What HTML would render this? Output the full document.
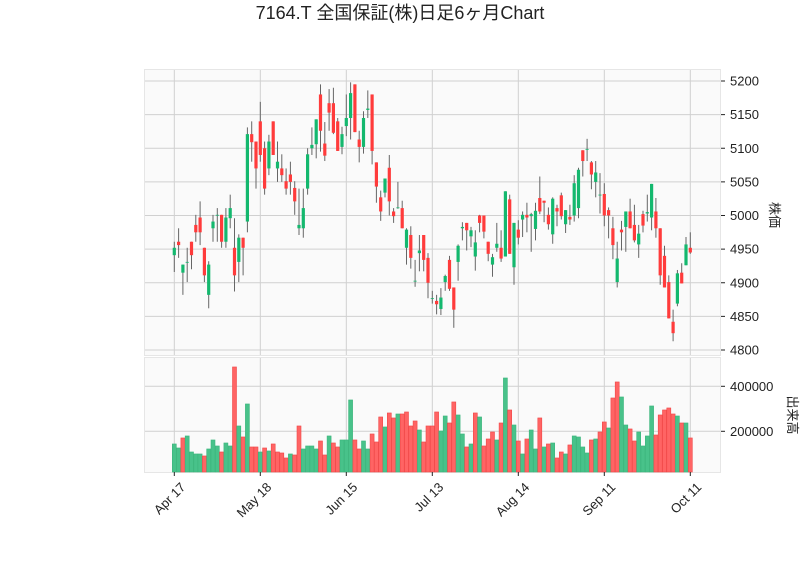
<!DOCTYPE html>
<html><head><meta charset="utf-8"><style>
html,body{margin:0;padding:0;background:#fff;}
svg{display:block;font-family:"Liberation Sans","Noto Sans CJK JP",sans-serif;}
</style></head><body>
<svg id="chart" width="800" height="575" viewBox="0 0 800 575">
<text x="400" y="19" text-anchor="middle" font-size="18" fill="#222">7164.T 全国保証(株)日足6ヶ月Chart</text>
<rect x="144.5" y="69.5" width="576" height="286" fill="#fafafa" stroke="#e6e6e6"/>
<rect x="144.5" y="357.5" width="576" height="115" fill="#fafafa" stroke="#e6e6e6"/>
<g id="grid"></g><g id="marks"></g><g id="axes"></g>
<text transform="translate(770,215) rotate(90)" text-anchor="middle" font-size="13" fill="#222">株価</text>
<text transform="translate(788,415) rotate(90)" text-anchor="middle" font-size="13" fill="#222">出来高</text>
</svg>
<script>
const opens=[4941,4961,4915,4931,4961,4986,4997,4952,4882,4981,5001,5001,4961,4996,4952,4931,4967,4991,5121,5110,5140,5100,5070,5140,5070,5070,5051,5061,5041,4981,4981,5040,5100,5106,5180,5107,5167,5167,5140,5102,5133,5145,5195,5113,5102,5157,5180,5079,5027,5034,5071,5006,5012,5011,4952,4971,4903,4944,4971,4937,4877,4873,4861,4901,4934,4893,4931,4981,4989,4969,4939,5000,5000,4961,4927,4952,4952,4939,5024,4923,4979,4994,5001,4999,4980,5026,5022,5001,4972,5011,5030,4987,4998,5000,5011,5097,5099,5079,5050,5031,5032,5008,4981,4901,4979,4983,5006,4986,4957,5002,5003,4997,5006,4981,4940,4901,4842,4869,4915,4926,4952];
const highs=[4961,4981,4927,4952,4961,5001,5021,4952,4932,5001,5011,5001,5011,5031,4996,4972,4967,5131,5140,5110,5169,5110,5120,5140,5110,5091,5070,5080,5051,5040,5040,5100,5131,5143,5195,5139,5188,5190,5145,5132,5180,5198,5195,5126,5155,5186,5180,5079,5037,5055,5090,5011,5050,5022,4981,4984,4934,4971,4971,4944,4888,4882,4892,4912,4940,4893,4957,4990,4989,4983,4978,5001,5000,4961,4943,4989,4978,5036,5031,4989,4993,5006,5019,5004,5019,5058,5022,5012,5027,5016,5034,5008,5016,5060,5071,5097,5114,5081,5081,5063,5048,5012,4998,4961,4992,5006,5025,5016,4986,5007,5031,5047,5026,4981,4955,4911,4860,4919,4929,4968,4975];
const lows=[4916,4937,4882,4901,4920,4961,4956,4901,4862,4961,4961,4952,4952,4981,4887,4901,4911,4975,5080,5040,5080,5031,5060,5090,5050,5050,5031,5031,5001,4971,4967,5031,5090,5085,5095,5081,5126,5121,5096,5091,5118,5113,5124,5079,5092,5145,5076,5019,4992,5027,5000,4989,5010,4981,4927,4921,4894,4917,4917,4877,4869,4853,4852,4888,4888,4833,4903,4963,4948,4953,4918,4975,4966,4932,4909,4946,4931,4939,4943,4897,4957,4968,4975,4946,4963,5002,4990,4979,4958,4984,4994,4974,4986,4991,4996,5058,5081,5039,5027,5003,4984,4966,4935,4893,4948,4946,4981,4960,4937,4975,4991,4978,4967,4897,4893,4847,4813,4865,4899,4926,4943];
const closes=[4952,4956,4927,4931,4941,4975,4975,4911,4927,4991,5001,4961,4997,5011,4911,4967,4952,5121,5109,5070,5090,5040,5110,5090,5080,5060,5040,5050,5021,4986,5011,5091,5105,5143,5126,5089,5153,5123,5096,5121,5145,5182,5124,5102,5145,5159,5096,5043,5006,5055,5021,4999,5012,4981,4979,4937,4903,4948,4934,4900,4877,4868,4878,4910,4891,4860,4955,4983,4978,4978,4960,4989,4976,4943,4938,4958,4936,5036,4943,4989,4967,5001,4997,5002,5007,5006,5019,4987,5025,5006,4999,5008,4994,5048,5068,5081,5099,5061,5064,5031,5000,5000,4956,4936,4975,5006,4981,4963,4973,4985,5005,5047,4981,4911,4893,4847,4825,4914,4899,4957,4945];
const volumesK=[143.7,125.9,170.4,179.3,108.1,99.3,99.3,90.4,121.5,161.5,134.8,108.1,148.1,134.8,485.9,223.7,174.8,321.5,130.4,130.4,108.1,125.9,112.6,143.7,108.1,103.7,81.5,99.3,94.8,223.7,121.5,134.8,134.8,121.5,157,94.8,179.3,148.1,130.4,161.5,161.5,339.3,161.5,121.5,157,121.5,188.1,152.6,263.7,219.3,281.5,259.3,277,277,285.9,223.7,245.9,205.9,152.6,223.7,223.7,285.9,201.5,268.1,237,330.4,272.6,188.1,130.4,143.7,281.5,263.7,134.8,165.9,197,161.5,237,437,294.8,228.1,157,99.3,165.9,205.9,121.5,259.3,130.4,143.7,148.1,81.5,108.1,99.3,139.3,179.3,174.8,130.4,103.7,161.5,165.9,197,241.5,214.8,348.1,419.3,352.6,228.1,210.4,157,197,134.8,179.3,312.6,183.7,272.6,294.8,303.7,277,268.1,237,237,170.4];
const xTickIdx=[0,20,40,60,80,100,120];
const xTickLabels=["Apr 17","May 18","Jun 15","Jul 13","Aug 14","Sep 11","Oct 11"];
const priceTicks=[4800,4850,4900,4950,5000,5050,5100,5150,5200];
const volTicksK=[200,400];
const volTickLabels=["200000","400000"];

const NS="http://www.w3.org/2000/svg";
const xScale=i=>174.3+i*4.3;
const yPrice=p=>81+(5200-p)*0.6725;
const yVol=v=>431.3-(v-200)*0.225;
const VOL_BASE=472;
function mk(tag,attrs,parent){const e=document.createElementNS(NS,tag);for(const k in attrs)e.setAttribute(k,attrs[k]);parent.appendChild(e);return e;}
const grid=document.getElementById('grid'),marks=document.getElementById('marks'),axes=document.getElementById('axes');

xTickIdx.forEach((idx,j)=>{
  const x=xScale(idx);
  let g=mk('line',{x1:x,x2:x,y1:70,y2:355,stroke:'#d0d0d0','stroke-width':1},grid);
  
  
  g=mk('line',{x1:x,x2:x,y1:358,y2:472,stroke:'#d0d0d0','stroke-width':1},grid);
  
  
  const t=mk('line',{x1:x,x2:x,y1:472,y2:476,stroke:'#222','stroke-width':1},axes);
  
  
  const lb=mk('text',{x:0,y:0,'font-size':13,fill:'#222','text-anchor':'end',transform:`translate(${x+12},${488}) rotate(-45)`},axes);
  lb.textContent=xTickLabels[j];
  
  
});
priceTicks.forEach(p=>{
  const y=yPrice(p);
  const g=mk('line',{x1:145,x2:720,y1:y,y2:y,stroke:'#d0d0d0','stroke-width':1},grid);
  
  
  const t=mk('line',{x1:721,x2:725,y1:y,y2:y,stroke:'#222','stroke-width':1},axes);
  
  
  const lb=mk('text',{x:730,y:y+4.5,'font-size':13,fill:'#222'},axes);
  lb.textContent=String(p);
  
  
});
volTicksK.forEach((v,j)=>{
  const y=yVol(v);
  const g=mk('line',{x1:145,x2:720,y1:y,y2:y,stroke:'#d0d0d0','stroke-width':1},grid);
  
  
  const t=mk('line',{x1:721,x2:725,y1:y,y2:y,stroke:'#222','stroke-width':1},axes);
  
  
  const lb=mk('text',{x:730,y:y+4.5,'font-size':13,fill:'#222'},axes);
  lb.textContent=volTickLabels[j];
  
  
});

opens.forEach((o,i)=>{
  const x=xScale(i),c=closes[i],up=c>=o;
  const col=up?'#14b86e':'#ff3b3b';
  const w=mk('line',{x1:x,x2:x,y1:yPrice(highs[i]),y2:yPrice(lows[i]),stroke:'#666','stroke-width':1},marks);
  
  
  const top=yPrice(Math.max(o,c)),bot=yPrice(Math.min(o,c));
  const b=mk('rect',{x:x-1.6,y:top,width:3.2,height:Math.max(bot-top,0.8),fill:col},marks);
  
  
  const vup=i===0?up:c>=closes[i-1];
  const vy=yVol(volumesK[i]);
  const vb=mk('rect',{x:x-2,y:vy,width:4,height:VOL_BASE-vy,fill:vup?'#48c28a':'#ff6464',stroke:vup?'#3cb57c':'#f04848','stroke-width':0.6},marks);
  
  
});
</script>
</body></html>
